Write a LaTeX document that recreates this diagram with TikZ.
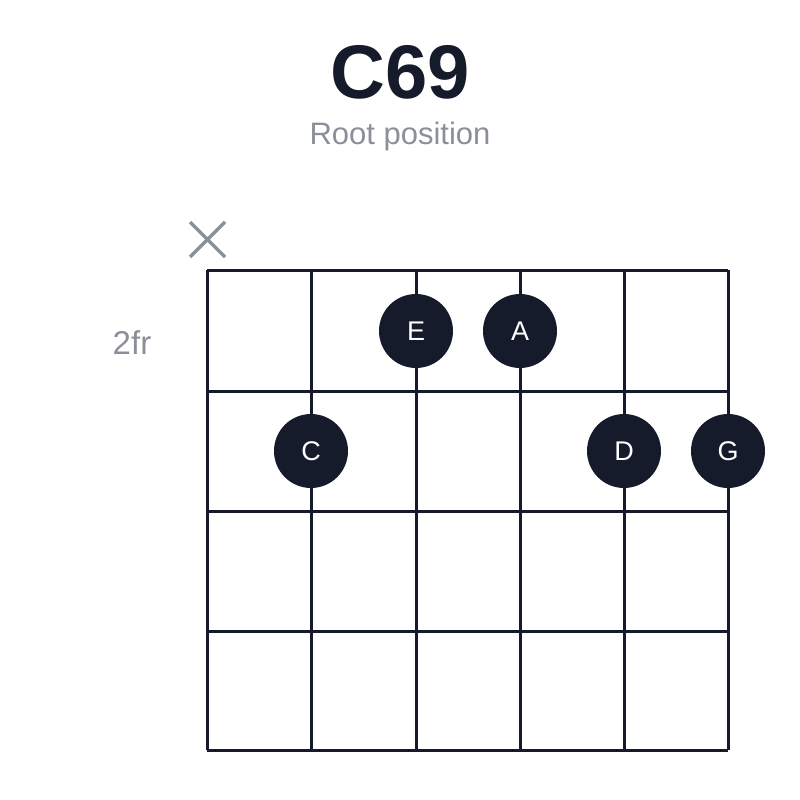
\documentclass[tikz,border=0pt]{standalone}
\usepackage{fontspec}
\setmainfont{Liberation Sans}
\definecolor{ink}{HTML}{151B2B}
\definecolor{muted}{HTML}{8A8F99}
\begin{document}
\begin{tikzpicture}[x=1pt,y=-1pt,
  grid/.style={ink,line width=3pt},
  dot/.style={circle,fill=ink,minimum size=74pt,inner sep=0pt,text=white,font=\fontsize{27}{27}\selectfont},
  muted/.style={text=muted}]
\useasboundingbox (0,0) rectangle (800,800);
\foreach \x in {207,311,416,520,624,728} \draw[grid] (\x,270) -- (\x,750);
\foreach \y in {270,391,511,631,750} \draw[grid] (207,\y) -- (728,\y);
\node[dot] (e) at (416,331) {E};
\node[dot] (a) at (520,331) {A};
\node[dot] (c) at (311,451) {C};
\node[dot] (d) at (624,451) {D};
\node[dot] (g) at (728,451) {G};
\draw[muted,draw=muted,line width=3.5pt] (190,222) -- (225,257) (225,222) -- (190,257);
\node[font=\bfseries\fontsize{76}{76}\selectfont,text=ink] (t) at (400,72) {C69};
\node[muted,font=\fontsize{31}{31}\selectfont] (s) at (400,136) {Root position};
\node[muted,font=\fontsize{33}{33}\selectfont] (f) at (132,343) {2fr};
\end{tikzpicture}
\end{document}
